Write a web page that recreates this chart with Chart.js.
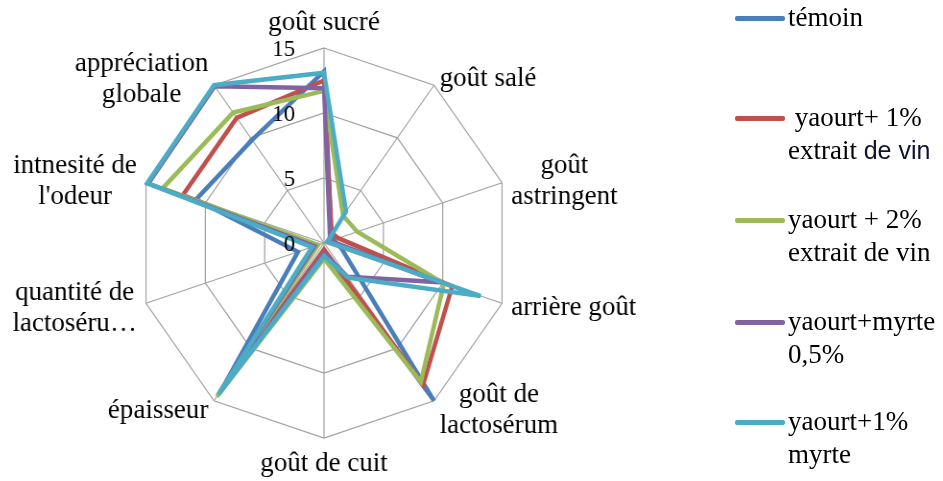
<!DOCTYPE html>
<html>
<head>
<meta charset="utf-8">
<script src="https://cdn.jsdelivr.net/npm/chart.js@4.4.0/dist/chart.umd.min.js"></script>
<style>
  body { margin: 0; background: #fff; }
  #wrap { position: relative; width: 943px; height: 481px; font-family: "Liberation Serif", "Times New Roman", serif; color: #000; overflow: hidden; }
  /* the web is a touch narrower than it is tall */
  #radar { position: absolute; left: 0; top: 0; transform: scaleX(0.96); transform-origin: 324px 0; }
  .key { position: absolute; left: 735px; }
  .key i { position: absolute; left: 0; top: -2px; width: 50px; height: 5px; border-radius: 2px; }
  .key span { position: absolute; left: 53px; top: -17px; font-size: 27px; line-height: 33px; white-space: nowrap; }
  .key .sans { font-family: "Liberation Sans", Arial, sans-serif; font-size: 25px; color: #111133; }
</style>
</head>
<body>
<div id="wrap">
  <canvas id="radar" width="943" height="481"></canvas>
  <div class="key" style="top:18px"><i></i><span>témoin</span></div>
  <div class="key" style="top:118px"><i></i><span>&nbsp;yaourt+ 1%<br>extrait <span class="sans" style="position:static">de vin</span></span></div>
  <div class="key" style="top:220px"><i></i><span>yaourt + 2%<br>extrait de vin</span></div>
  <div class="key" style="top:322px"><i></i><span>yaourt+myrte<br>0,5%</span></div>
  <div class="key" style="top:422px"><i></i><span>yaourt+1%<br>myrte</span></div>
</div>
<script>
// axes, clockwise from the top
const axisLabels = [
  ['goût sucré'],
  ['goût salé'],
  ['goût', 'astringent'],
  ['arrière goût'],
  ['goût de', 'lactosérum'],
  ['goût de cuit'],
  ['épaisseur'],
  ['quantité de', 'lactoséru…'],
  ['intnesité de', "l'odeur"],
  ['appréciation', 'globale']
];
const tickLabels = ['0', '5', '10', '15'];

const seriesNames = ['témoin', 'yaourt+ 1% extrait de vin', 'yaourt + 2% extrait de vin', 'yaourt+myrte 0,5%', 'yaourt+1% myrte'];
const seriesColors = ['#4a7ebb', '#c0504d', '#9bbb59', '#8064a2', '#4bacc6'];

const temoin    = [13.2, 1.0, 0.8, 1.5, 15.0, 0.6, 14.0, 2.2, 10.8, 9.8];
const vin1      = [12.5, 1.0, 1.2, 10.8, 13.5, 0.5, 14.2, 0.8, 11.9, 11.9];
const vin2      = [11.7, 2.6, 2.8, 10.1, 13.2, 1.2, 14.6, 0.5, 13.6, 12.4];
const myrte05   = [11.9, 0.8, 0.5, 9.8, 3.2, 0.8, 14.2, 0.8, 14.8, 14.9];
const myrte1    = [13.1, 3.0, 0.3, 13.2, 3.3, 1.0, 14.4, 1.0, 14.9, 15.0];
const seriesValues = [temoin, vin1, vin2, myrte05, myrte1];

document.querySelectorAll('.key i').forEach((el, i) => { el.style.background = seriesColors[i]; });

// canvas is squeezed by css, so text is stretched back to normal width
const squeeze = 0.96;

function drawText(ctx, t, x, y) {
  ctx.save();
  ctx.translate(x, y);
  ctx.scale(1 / squeeze, 1);
  ctx.fillText(t, 0, 0);
  ctx.restore();
}

// axis labels and tick numbers drawn Excel-style around the web
const webText = {
  id: 'webText',
  afterDatasetsDraw(chart) {
    const scale = chart.scales.r;
    const ctx = chart.ctx;
    const R = scale.drawingArea;
    const lineH = 31;
    ctx.save();
    ctx.fillStyle = '#000';
    ctx.textBaseline = 'middle';

    ctx.font = '23px "Liberation Serif"';
    ctx.textAlign = 'right';
    scale.ticks.forEach((t, i) => {
      const d = scale.getDistanceFromCenterForValue(t.value);
      drawText(ctx, tickLabels[i], scale.xCenter - 30, scale.yCenter - d + 2);
    });

    ctx.font = '27px "Liberation Serif"';
    ctx.textAlign = 'center';
    axisLabels.forEach((lines, i) => {
      const p = scale.getPointPosition(i, R + 10);
      const a = i * 2 * Math.PI / axisLabels.length;
      const s = Math.sin(a), c = Math.cos(a);
      const w = Math.max(...lines.map(t => ctx.measureText(t).width)) / squeeze;
      const h = lines.length * lineH;
      let cx = p.x, top = p.y - h / 2 + 2;
      if (s > 0.1) cx = p.x + w / 2;
      else if (s < -0.1) cx = p.x - w / 2;
      else if (c > 0) top = p.y - h;
      else top = p.y;
      lines.forEach((t, k) => drawText(ctx, t, cx, top + lineH * (k + 0.5)));
    });
    ctx.restore();
  }
};

new Chart(document.getElementById('radar'), {
  type: 'radar',
  data: {
    labels: axisLabels,
    datasets: seriesValues.map((vals, i) => ({
      label: seriesNames[i],
      data: vals,
      borderColor: seriesColors[i],
      backgroundColor: seriesColors[i],
      borderWidth: 4.5,
      borderJoinStyle: 'miter',
      pointRadius: 0,
      fill: false,
      tension: 0,
      order: seriesValues.length - i
    }))
  },
  options: {
    responsive: false,
    animation: false,
    layout: { padding: { left: 129, top: 48, right: 424, bottom: 43 } },
    plugins: { legend: { display: false }, tooltip: { enabled: false } },
    scales: {
      r: {
        min: 0,
        max: 15,
        ticks: { stepSize: 5, display: false },
        pointLabels: { display: false },
        grid: { color: '#a0a0a0', lineWidth: 1.2 },
        angleLines: { color: '#a0a0a0', lineWidth: 1.2 }
      }
    }
  },
  plugins: [webText]
});
</script>
</body>
</html>
